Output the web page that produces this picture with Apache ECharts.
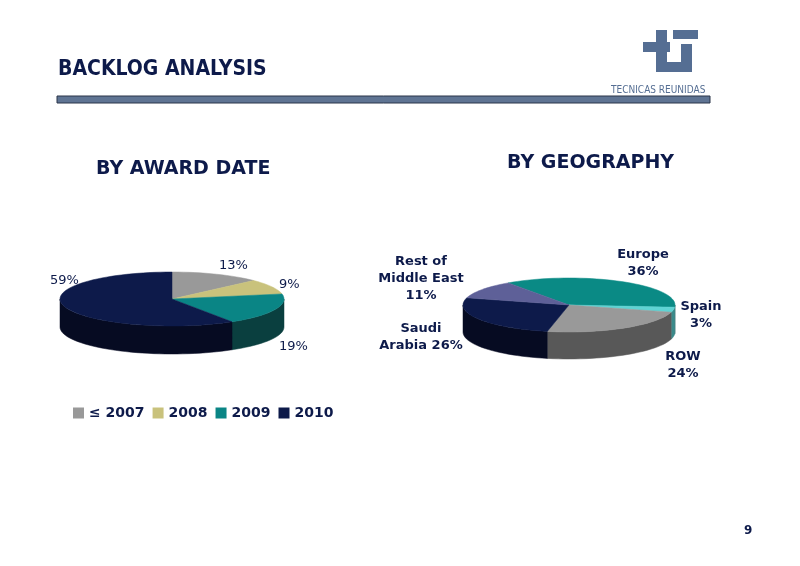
<!DOCTYPE html>
<html><head><meta charset="utf-8">
<script src="https://cdn.jsdelivr.net/npm/echarts@6/dist/echarts.min.js"></script>
<style>html,body{margin:0;background:#fff}#c{width:800px;height:566px}</style>
</head><body><div id="c"></div>
<script>
var awardNames = ['≤ 2007', '2008', '2009', '2010'];
var awardValues = [13, 9, 19, 59];
var awardColors = ['#999999', '#c9c27c', '#0a8585', '#0d1a4a'];
var awardSides = ['#5e5e5e', '#7d784a', '#0a3f3f', '#060b22'];

var geoNames = ['Europe', 'Spain', 'ROW', 'Saudi Arabia', 'Rest of Middle East'];
var geoValues = [36, 3, 24, 26, 11];
var geoColors = ['#0a8a85', '#5fd3d3', '#999999', '#0d1a4a', '#5e6098'];
var geoSides = ['#0a4a48', '#3a8a8a', '#585858', '#060b22', '#33355a'];

var font = 'Verdana, "DejaVu Sans", sans-serif';
var navy = '#0d1a4a';

function pt(p, deg, dy) {
  var r = deg * Math.PI / 180;
  return [p.cx + p.rx * Math.sin(r), p.cy - p.ry * Math.cos(r) + (dy || 0)];
}
function arc(p, a, b, dy) {
  var out = [], n = Math.max(2, Math.ceil((b - a) / 3));
  for (var i = 0; i <= n; i++) out.push(pt(p, a + (b - a) * i / n, dy));
  return out;
}
function pieSeries(p, values, colors, sides) {
  var total = values.reduce(function (s, v) { return s + v; }, 0);
  var starts = [], acc = 0;
  values.forEach(function (v) { starts.push(p.start + acc / total * 360); acc += v; });
  function range(i) { return [starts[i], starts[i] + values[i] / total * 360]; }
  return [{
    type: 'custom', coordinateSystem: 'none', silent: true, z: 1,
    data: values,
    renderItem: function (params) {
      var r = range(params.dataIndex);
      var a = Math.max(r[0], 90), b = Math.min(r[1], 270);
      if (b <= a) return { type: 'group', children: [] };
      var top = arc(p, a, b, 0), bot = arc(p, a, b, p.depth).reverse();
      return { type: 'polygon', shape: { points: top.concat(bot) },
        style: { fill: sides[params.dataIndex], stroke: sides[params.dataIndex], lineWidth: 0.5 } };
    }
  }, {
    type: 'custom', coordinateSystem: 'none', silent: true, z: 2,
    data: values,
    renderItem: function (params) {
      var r = range(params.dataIndex);
      var pts = [[p.cx, p.cy]].concat(arc(p, r[0], r[1], 0));
      return { type: 'polygon', shape: { points: pts },
        style: { fill: colors[params.dataIndex], stroke: colors[params.dataIndex], lineWidth: 0.5 } };
    }
  }];
}

var left = { cx: 172, cy: 299, rx: 112, ry: 27, depth: 28, start: 0 };
var right = { cx: 569, cy: 305, rx: 106, ry: 27, depth: 27, start: -35 };

function txt(x, y, t, o) {
  o = o || {};
  return { type: 'text', z: 10, style: { x: x, y: y, text: t, fill: o.fill || navy,
    font: (o.weight || 'bold') + ' ' + (o.size || 13) + 'px ' + (o.family || font),
    textAlign: o.align || 'left', textVerticalAlign: 'top', lineHeight: o.lh || 17 } };
}

var series = pieSeries(left, awardValues, awardColors, awardSides)
  .concat(pieSeries(right, geoValues, geoColors, geoSides));
awardNames.forEach(function (n, i) {
  series.push({ type: 'line', name: n, data: [], itemStyle: { color: awardColors[i] } });
});

var logo = '#556e93';
var chart = echarts.init(document.getElementById('c'), null, { renderer: 'canvas' });
chart.setOption({
  animation: false,
  xAxis: { show: false }, yAxis: { show: false },
  grid: { left: 0, right: 0, top: 0, bottom: 0 },
  legend: {
    data: awardNames.map(function (n) { return { name: n, icon: 'rect' }; }),
    left: 68, top: 401, itemWidth: 11, itemHeight: 11, itemGap: 8,
    textStyle: { color: navy, fontWeight: 'bold', fontSize: 14, fontFamily: font }
  },
  series: series,
  graphic: [
    txt(58, 61, 'BACKLOG ANALYSIS', { size: 21, family: '"DejaVu Sans Condensed", "Liberation Sans Narrow", sans-serif' }),
    { type: 'rect', shape: { x: 57, y: 96, width: 653, height: 7 }, style: { fill: '#5f7493', stroke: '#2a3448', lineWidth: 1 } },
    { type: 'rect', shape: { x: 656, y: 30, width: 11, height: 42 }, style: { fill: logo } },
    { type: 'rect', shape: { x: 643, y: 42, width: 27, height: 10 }, style: { fill: logo } },
    { type: 'rect', shape: { x: 673, y: 30, width: 25, height: 9 }, style: { fill: logo } },
    { type: 'rect', shape: { x: 681, y: 44, width: 11, height: 26 }, style: { fill: logo } },
    { type: 'rect', shape: { x: 656, y: 62, width: 36, height: 10 }, style: { fill: logo } },
    txt(611, 82, 'TECNICAS REUNIDAS', { size: 10, weight: 'normal', fill: logo, family: '"DejaVu Sans Condensed", sans-serif' }),
    txt(96, 161, 'BY AWARD DATE', { size: 19 }),
    txt(507, 155, 'BY GEOGRAPHY', { size: 19 }),
    txt(219, 257, '13%', { weight: 'normal' }),
    txt(279, 276, '9%', { weight: 'normal' }),
    txt(279, 338, '19%', { weight: 'normal' }),
    txt(50, 272, '59%', { weight: 'normal' }),
    txt(643, 246, 'Europe\n36%', { align: 'center' }),
    txt(701, 298, 'Spain\n3%', { align: 'center' }),
    txt(683, 348, 'ROW\n24%', { align: 'center' }),
    txt(421, 253, 'Rest of\nMiddle East\n11%', { align: 'center' }),
    txt(421, 320, 'Saudi\nArabia 26%', { align: 'center' }),
    txt(744, 522, '9', { size: 12 })
  ]
});
</script></body></html>
